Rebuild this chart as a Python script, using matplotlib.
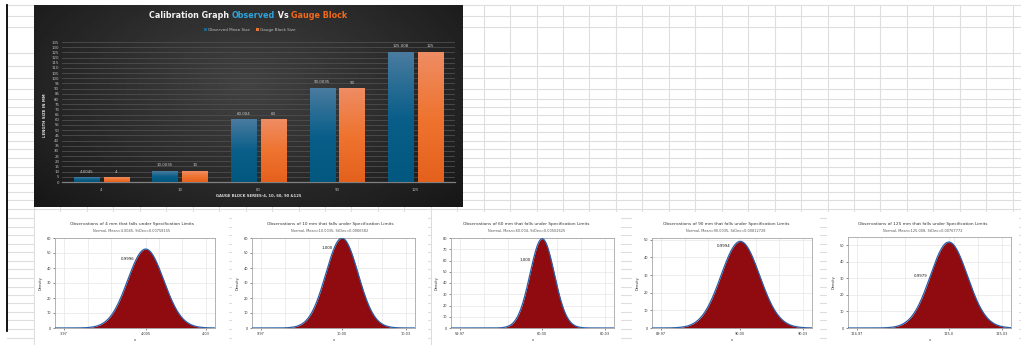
import math
import numpy as np
import matplotlib
matplotlib.use("Agg")
import matplotlib.pyplot as plt
from matplotlib.patches import Rectangle
from matplotlib.colors import LinearSegmentedColormap

# ---------------- data ----------------
block_labels = ["4", "10", "60", "90", "125"]
gauge_block_size = [4, 10, 60, 90, 125]
observed_mean_size = [4.0045, 10.0035, 60.004, 90.0035, 125.008]
observed_stdev = [0.00758155, 0.0066582, 0.00502625, 0.00812728, 0.00767772]
spec_tolerance = 0.03
mean_tick_labels = ["4.005", "10.00", "60.00", "90.00", "125.0"]
density_ylim_top = [60, 60, 80, 51, 55]

W, H = 1021, 345
fig = plt.figure(figsize=(W / 100, H / 100), dpi=100)
fig.patch.set_facecolor("white")


def px_rect(l, t, r, b):
    return [l / W, 1 - b / H, (r - l) / W, (b - t) / H]


# ---------------- worksheet backdrop ----------------
sheet = fig.add_axes([0, 0, 1, 1], zorder=0)
sheet.set_xlim(0, W)
sheet.set_ylim(H, 0)
sheet.axis("off")
row_y = [5, 16, 27, 53, 66, 78, 89, 99, 107, 115, 124, 132, 141, 149, 158, 167,
         175, 183, 192, 200, 209, 218, 227, 235, 244, 252, 261, 269, 278, 287,
         295, 303, 312, 320, 329, 338]
for y in row_y:
    sheet.plot([7, W], [y, y], color="#dedede", lw=0.8)
for xc in [34] + list(np.arange(34 + 26.45, W, 26.45)):
    sheet.plot([xc, xc], [5, H], color="#dedede", lw=0.8)
sheet.plot([6.5, 6.5], [5, 331], color="black", lw=1.3)

panel_px = [(35, 229), (232, 428), (432, 621), (632, 820), (827, 1019)]
for l, r in panel_px:
    sheet.add_patch(Rectangle((l, 212), r - l, H - 212, facecolor="white",
                              edgecolor="none", zorder=5))

# ---------------- dark calibration chart ----------------
chart_bg = fig.add_axes(px_rect(34, 5, 462, 207), zorder=1)
yy, xx = np.mgrid[0:1:200j, 0:1:430j]
rr = np.sqrt(((xx - 0.5) / 0.6) ** 2 + ((yy - 0.4) / 0.75) ** 2)
grey = np.clip(0.26 - 0.15 * rr, 0.09, 0.27)
chart_bg.imshow(grey, cmap="gray", vmin=0, vmax=1, extent=[0, 1, 0, 1], aspect="auto")
chart_bg.axis("off")

ax = fig.add_axes(px_rect(62, 42, 455, 182), zorder=2)
ax.patch.set_alpha(0)
xpos = np.arange(len(block_labels))
bw, off = 0.32, 0.19
b1 = ax.bar(xpos - off, observed_mean_size, bw, color="#1a6690",
            label="Observed Mean Size", zorder=3)
b2 = ax.bar(xpos + off, gauge_block_size, bw, color="#ee7432",
            label="Gauge Block Size", zorder=3)

blue_cm = LinearSegmentedColormap.from_list("b", ["#03587f", "#0a5f8a", "#497b9f"])
orange_cm = LinearSegmentedColormap.from_list("o", ["#e4611d", "#ef7430", "#ee8c63"])
grad = np.linspace(1, 0, 64).reshape(-1, 1)
for bars, cm in ((b1, blue_cm), (b2, orange_cm)):
    for p in bars:
        x0, h = p.get_x(), p.get_height()
        ax.imshow(grad, cmap=cm, extent=[x0, x0 + p.get_width(), 0, h],
                  aspect="auto", zorder=3.5)

ax.bar_label(b1, labels=[f"{v:g}" for v in observed_mean_size], padding=3,
             fontsize=2.9, color="#c8c8c8")
ax.bar_label(b2, labels=[f"{v:g}" for v in gauge_block_size], padding=3,
             fontsize=2.9, color="#c8c8c8")

ax.set_xlim(-0.5, len(block_labels) - 0.5)
ax.set_ylim(0, 135)
ax.set_yticks(np.arange(0, 136, 5))
ax.set_xticks(xpos, block_labels)
ax.yaxis.grid(True, color="#4e4e4e", lw=0.6)
ax.set_axisbelow(True)
for side in ("top", "right", "left"):
    ax.spines[side].set_visible(False)
ax.spines["bottom"].set_color("#808080")
ax.spines["bottom"].set_linewidth(0.9)
ax.tick_params(length=0, labelsize=2.8, colors="#bfbfbf", pad=2)
ax.tick_params(axis="x", pad=4)

ax.legend(handles=[b1, b2], loc="center", bbox_to_anchor=(250 / W, 1 - 30 / H),
          bbox_transform=fig.transFigure, ncol=2, frameon=False, fontsize=3,
          labelcolor="#bfbfbf", handlelength=0.7, handleheight=0.7,
          handletextpad=0.3, columnspacing=1.5)

# overlay for positioned text
ov = fig.add_axes([0, 0, 1, 1], zorder=10)
ov.set_xlim(0, W)
ov.set_ylim(H, 0)
ov.axis("off")
ov.patch.set_alpha(0)

ov.text(45, 115, "LENGTH SIZE IN MM", rotation=90, ha="center", va="center",
        fontsize=2.8, fontweight="bold", color="#d9d9d9")
ov.text(259, 196, "GAUGE BLOCK SERIES-4, 10, 60, 90 &125", ha="center",
        va="center", fontsize=2.7, fontweight="bold", color="#d9d9d9")

title_parts = [("Calibration Graph ", "#f2f2f2"), ("Observed", "#2ea3dc"),
               (" Vs ", "#f2f2f2"), ("Gauge Block", "#f26a1b")]
renderer = fig.canvas.get_renderer()
widths = []
for s, c in title_parts:
    t = ov.text(0, 0, s, fontsize=5.8, fontweight="bold")
    widths.append(t.get_window_extent(renderer).width)
    t.remove()
xstart = 248 - sum(widths) / 2
for (s, c), wdt in zip(title_parts, widths):
    ov.text(xstart, 16, s, fontsize=5.8, fontweight="bold", color=c,
            ha="left", va="center")
    xstart += wdt

# ---------------- normal density panels ----------------
axes_px = [(55, 238, 215, 328), (252, 238, 415, 328), (451, 238, 614, 328),
           (652, 238, 812, 328), (848, 237, 1011, 328)]
label_offsets = [(-1.03, 0.87), (-0.93, 0.89), (-1.37, 0.76), (-0.84, 0.95),
                 (-1.54, 0.61)]
pad = 0.0037
for i in range(len(block_labels)):
    m, s = observed_mean_size[i], observed_stdev[i]
    nominal = gauge_block_size[i]
    lsl, usl = nominal - spec_tolerance, nominal + spec_tolerance
    xs = np.linspace(lsl - pad, usl + pad, 800)
    pdf = np.exp(-0.5 * ((xs - m) / s) ** 2) / (s * math.sqrt(2 * math.pi))
    peak = 1 / (s * math.sqrt(2 * math.pi))

    a = fig.add_axes(px_rect(*axes_px[i]), zorder=3)
    a.fill_between(xs, pdf, color="#8f0b0f", lw=0, zorder=2)
    a.plot(xs, pdf, color="#2a5fa8", lw=0.9, zorder=3)
    a.set_xlim(lsl - pad, usl + pad)
    a.set_ylim(0, density_ylim_top[i])
    a.set_xticks([lsl, m, usl], [f"{lsl:.2f}", mean_tick_labels[i], f"{usl:.2f}"])
    a.set_xticks([nominal + k * 0.01 for k in (-2, -1, 1, 2)], minor=True)
    a.set_yticks(np.arange(0, density_ylim_top[i] + 0.1, 10))
    a.grid(True, which="both", color="#e6e6e6", lw=0.5)
    a.set_axisbelow(True)
    a.tick_params(which="major", length=1.5, width=0.4, labelsize=2.5,
                  colors="#333333", pad=1.5)
    a.tick_params(which="minor", length=0)
    for sp in a.spines.values():
        sp.set_color("#a6a6a6")
        sp.set_linewidth(0.6)
    a.set_ylabel("Density", fontsize=2.6, color="#333333", labelpad=3)
    a.set_xlabel("x", fontsize=2.6, color="#333333", labelpad=1.5)

    prob = 0.5 * (math.erf((usl - m) / (s * math.sqrt(2)))
                  - math.erf((lsl - m) / (s * math.sqrt(2))))
    dx, fy = label_offsets[i]
    a.text(m + dx * s, fy * peak, f"{prob:#.4g}", ha="center", va="center",
           fontsize=2.8, color="#111111", zorder=4)

    cx = (panel_px[i][0] + panel_px[i][1]) / 2
    ov.text(cx, 224, f"Observations of {block_labels[i]} mm that falls under "
            "Specification Limits", ha="center", va="center", fontsize=3.1,
            color="#333333")
    ov.text(cx, 230.5, f"Normal, Mean={m:g}, StDev={s:g}", ha="center",
            va="center", fontsize=2.5, color="#555555")

fig.savefig("out.png", dpi=100)
